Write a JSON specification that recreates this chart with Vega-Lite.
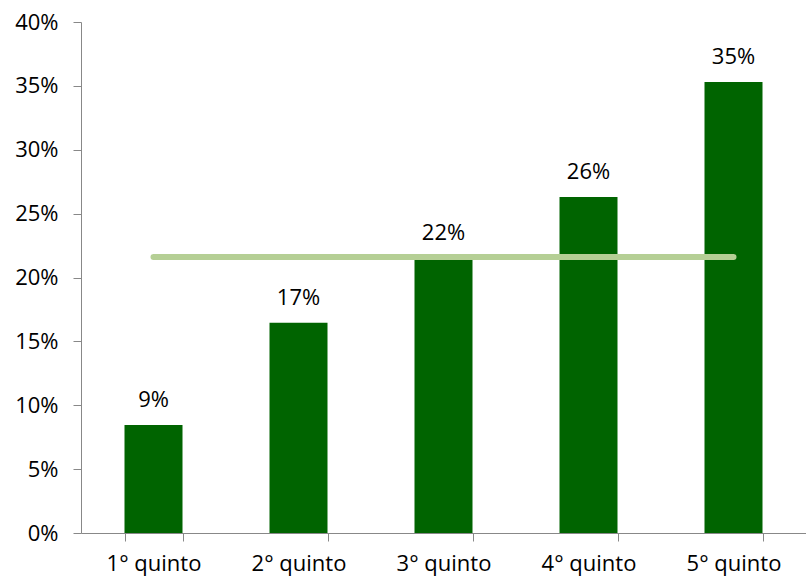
{
  "$schema": "https://vega.github.io/schema/vega-lite/v6.json",
  "width": 725,
  "height": 511,
  "autosize": {"type": "none"},
  "padding": {"left": 81, "top": 22, "right": 0, "bottom": 47},
  "background": "white",
  "config": {"view": {"stroke": null}, "font": "Open Sans"},
  "data": {"values": [
    {"q": "1° quinto", "v": 0.0845, "label": "9%", "avg": 0.216},
    {"q": "2° quinto", "v": 0.1645, "label": "17%", "avg": 0.216},
    {"q": "3° quinto", "v": 0.215, "label": "22%", "avg": 0.216},
    {"q": "4° quinto", "v": 0.263, "label": "26%", "avg": 0.216},
    {"q": "5° quinto", "v": 0.353, "label": "35%", "avg": 0.216}
  ]},
  "encoding": {
    "x": {"field": "q", "type": "nominal", "sort": null,
      "scale": {"paddingInner": 0.6, "paddingOuter": 0.3},
      "axis": {"title": null, "labelAngle": 0, "labelFontSize": 22, "labelColor": "#000", "labelPadding": 12,
        "domainColor": "#888", "tickColor": "#888", "tickSize": 8, "tickBand": "extent", "labelFont": "Open Sans"}}
  },
  "layer": [
    {"mark": {"type": "bar", "color": "#006400"},
     "encoding": {"y": {"field": "v", "type": "quantitative",
        "scale": {"domain": [0, 0.4]},
        "axis": {"title": null, "format": ".0%", "values": [0, 0.05, 0.1, 0.15, 0.2, 0.25, 0.3, 0.35, 0.4],
          "grid": false, "labelFontSize": 22, "labelColor": "#000", "labelPadding": 15,
          "domainColor": "#888", "tickColor": "#888", "tickSize": 8, "labelFont": "Open Sans"}}}},
    {"mark": {"type": "text", "baseline": "bottom", "dy": -13, "fontSize": 22, "color": "#000", "font": "Open Sans"},
     "encoding": {"y": {"field": "v", "type": "quantitative"}, "text": {"field": "label"}}},
    {"mark": {"type": "line", "color": "#b5cf95", "strokeWidth": 6, "strokeCap": "round"},
     "encoding": {"y": {"field": "avg", "type": "quantitative"}}}
  ]
}
